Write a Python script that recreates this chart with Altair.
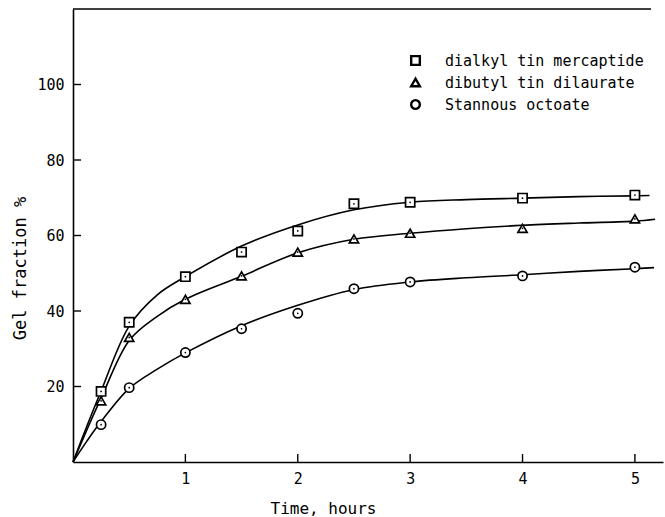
import altair as alt
import pandas as pd

# ---- data ----
series = ["dialkyl tin mercaptide", "dibutyl tin dilaurate", "Stannous octoate"]
shapes = ["square", "triangle-up", "circle"]
inks = ["black", "black", "black"]

# measured points
pt_time = [0.25, 0.5, 1, 1.5, 2, 2.5, 3, 4, 5]
sq_vals = [18.7, 37.0, 49.1, 55.6, 61.2, 68.4, 68.8, 69.9, 70.7]
tri_vals = [16.2, 33.0, 43.1, 49.3, 55.6, 59.1, 60.6, 61.9, 64.4]
cir_vals = [9.9, 19.7, 29.0, 35.3, 39.4, 45.9, 47.7, 49.3, 51.6]

# fitted curves
sq_curve_t = [0, 0.125, 0.25, 0.5, 0.75, 1, 1.5, 2, 2.5, 3, 3.5, 4, 4.5, 5, 5.13]
sq_curve_v = [0, 9.6, 18.8, 36.0, 44.3, 49.1, 57.2, 62.8, 66.8, 68.8, 69.5, 69.9, 70.3, 70.5, 70.6]
tri_curve_t = [0, 0.125, 0.25, 0.5, 0.75, 1, 1.5, 2, 2.5, 3, 3.5, 4, 4.5, 5, 5.18]
tri_curve_v = [0, 8.6, 16.9, 32.2, 38.6, 43.1, 49.2, 55.4, 59.0, 60.6, 61.8, 62.7, 63.3, 63.8, 64.3]
cir_curve_t = [0, 0.125, 0.25, 0.5, 0.75, 1, 1.5, 2, 2.5, 3, 3.5, 4, 4.5, 5, 5.17]
cir_curve_v = [0, 5.6, 10.7, 19.5, 24.6, 28.9, 36.1, 41.5, 45.7, 47.7, 48.8, 49.6, 50.5, 51.2, 51.5]

x_ticks = [1, 2, 3, 4, 5]
y_ticks = [20, 40, 60, 80, 100]

FONT = "DejaVu Sans Mono"
W, H = 590, 453

pts = pd.DataFrame(
    [{"series": s, "t": t, "v": v}
     for s, vals in zip(series, [sq_vals, tri_vals, cir_vals])
     for t, v in zip(pt_time, vals)]
)
curves = pd.DataFrame(
    [{"series": s, "t": t, "v": v}
     for s, ts, vs in zip(series, [sq_curve_t, tri_curve_t, cir_curve_t],
                          [sq_curve_v, tri_curve_v, cir_curve_v])
     for t, v in zip(ts, vs)]
)

x_enc = alt.X(
    "t:Q",
    scale=alt.Scale(domain=[0, 5.25], nice=False, zero=True),
    axis=alt.Axis(
        values=x_ticks, format="d", ticks=False, grid=False, labelPadding=9,
        labelFont=FONT, labelFontSize=15, labelColor="black",
        domainColor="black", domainWidth=1.6,
        title="Time, hours", titleFont=FONT, titleFontSize=16,
        titleFontWeight="normal", titleColor="black",
        titleX=250, titleY=38,
    ),
)
y_enc = alt.Y(
    "v:Q",
    scale=alt.Scale(domain=[0, 120], nice=False),
    axis=alt.Axis(
        values=y_ticks, format="d", ticks=False, grid=False, labelPadding=9,
        labelFont=FONT, labelFontSize=15, labelColor="black",
        domainColor="black", domainWidth=1.6,
        title="Gel  fraction  %", titleFont=FONT, titleFontSize=17,
        titleFontWeight="normal", titleColor="black",
        titleX=-44, titleY=259,
    ),
)

legend_kw = dict(
    title=None, orient="none", legendX=335, legendY=44,
    symbolSize=75, symbolStrokeWidth=2.4, symbolFillColor="white",
    labelFont=FONT, labelFontSize=15, labelColor="black",
    labelOffset=22, labelLimit=0, rowPadding=3, padding=0,
)

lines = alt.Chart(curves).mark_line(
    color="black", strokeWidth=1.6, interpolate="catmull-rom"
).encode(x=x_enc, y=y_enc, detail="series:N", order="t:Q")

markers = alt.Chart(pts).mark_point(
    filled=False, fill="white", fillOpacity=1,
    strokeWidth=1.7, size=85, opacity=1
).encode(
    x=x_enc, y=y_enc,
    shape=alt.Shape(
        "series:N",
        scale=alt.Scale(domain=series, range=shapes),
        legend=alt.Legend(**legend_kw),
    ),
    stroke=alt.Stroke(
        "series:N",
        scale=alt.Scale(domain=series, range=inks),
        legend=alt.Legend(**legend_kw),
    ),
)

dots = alt.Chart(pts).mark_point(
    filled=True, color="black", size=3, opacity=1
).encode(x=x_enc, y=y_enc)

ytick_marks = alt.Chart(pd.DataFrame({"v": y_ticks})).mark_rule(
    color="black", strokeWidth=1.4
).encode(y="v:Q", x=alt.value(0), x2=alt.value(8))

xtick_marks = alt.Chart(pd.DataFrame({"t": x_ticks})).mark_rule(
    color="black", strokeWidth=1.4
).encode(x="t:Q", y=alt.value(H), y2=alt.value(H - 8))

top_border = alt.Chart(pd.DataFrame({"v": [120]})).mark_rule(
    color="black", strokeWidth=1.6
).encode(y="v:Q", x=alt.value(0), x2=alt.value(578))

chart = alt.layer(
    lines, markers, dots, ytick_marks, xtick_marks, top_border
).properties(
    width=W, height=H,
    autosize=alt.AutoSizeParams(type="none"),
    padding={"left": 73, "top": 9, "right": 2, "bottom": 55},
    background="white",
).configure_view(stroke=None)

chart.save("out.html", embed_options={"renderer": "svg", "actions": False})
